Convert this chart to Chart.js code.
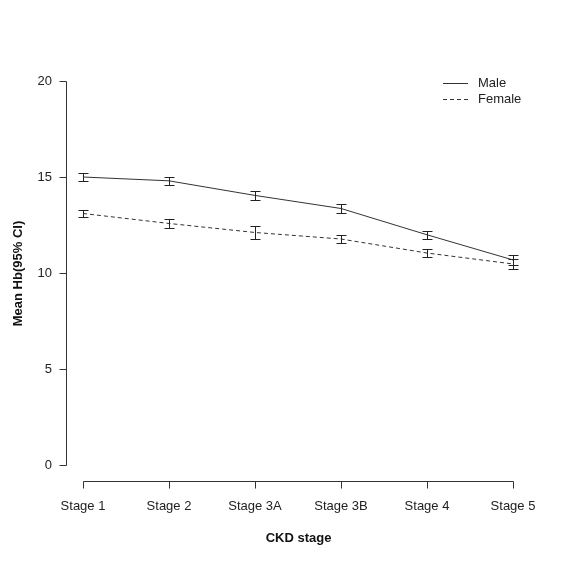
<!DOCTYPE html>
<html>
<head>
<meta charset="utf-8">
<script src="https://cdn.jsdelivr.net/npm/chart.js@4"></script>
<style>
html,body{margin:0;padding:0;background:#fff;}
#wrap{width:563px;height:563px;}
</style>
</head>
<body>
<div id="wrap"><canvas id="c" width="563" height="563"></canvas></div>
<script>
const categories = ["Stage 1","Stage 2","Stage 3A","Stage 3B","Stage 4","Stage 5"];
const maleMean  = [15.00, 14.80, 14.04, 13.36, 11.99, 10.68];
const maleLow   = [14.79, 14.58, 13.81, 13.13, 11.78, 10.42];
const maleHigh  = [15.21, 15.02, 14.27, 13.59, 12.20, 10.94];
const femaleMean = [13.10, 12.58, 12.11, 11.77, 11.04, 10.47];
const femaleLow  = [12.92, 12.35, 11.77, 11.56, 10.83, 10.21];
const femaleHigh = [13.28, 12.81, 12.45, 11.98, 11.25, 10.73];
const yTicks = [0, 5, 10, 15, 20];
const xTitle = "CKD stage";
const yTitle = "Mean Hb(95% CI)";

const INK = '#333333';
const FONT = '13px "Liberation Sans", Arial, sans-serif';
const BOLD = 'bold 13px "Liberation Sans", Arial, sans-serif';

const rAxes = {
  id: 'rAxes',
  afterDatasetsDraw(chart) {
    const ctx = chart.ctx;
    const xs = chart.scales.x, ys = chart.scales.y;
    ctx.save();
    // error bars
    const errs = [[maleLow, maleHigh], [femaleLow, femaleHigh]];
    ctx.strokeStyle = '#222';
    ctx.lineWidth = 1;
    errs.forEach(([lo, hi]) => {
      lo.forEach((v, i) => {
        const x = Math.round(xs.getPixelForValue(i)) + 0.5;
        const y1 = Math.round(ys.getPixelForValue(v)) + 0.5;
        const y2 = Math.round(ys.getPixelForValue(hi[i])) + 0.5;
        ctx.beginPath();
        ctx.moveTo(x, y1); ctx.lineTo(x, y2);
        ctx.moveTo(x - 5, y1); ctx.lineTo(x + 5, y1);
        ctx.moveTo(x - 5, y2); ctx.lineTo(x + 5, y2);
        ctx.stroke();
      });
    });
    // y axis
    ctx.strokeStyle = INK;
    const ax = 66.5;
    const yTop = Math.round(ys.getPixelForValue(yTicks[yTicks.length-1])) + 0.5;
    const yBot = Math.round(ys.getPixelForValue(yTicks[0])) + 0.5;
    ctx.beginPath();
    ctx.moveTo(ax, yTop); ctx.lineTo(ax, yBot);
    yTicks.forEach(t => {
      const y = Math.round(ys.getPixelForValue(t)) + 0.5;
      ctx.moveTo(ax, y); ctx.lineTo(ax - 7, y);
    });
    ctx.stroke();
    ctx.fillStyle = '#222';
    ctx.font = FONT;
    ctx.textAlign = 'right';
    ctx.textBaseline = 'middle';
    yTicks.forEach(t => {
      ctx.fillText(String(t), 52, ys.getPixelForValue(t));
    });
    // x axis
    const ay = 481.5;
    const xL = Math.round(xs.getPixelForValue(0)) + 0.5;
    const xR = Math.round(xs.getPixelForValue(categories.length - 1)) + 0.5;
    ctx.beginPath();
    ctx.moveTo(xL, ay); ctx.lineTo(xR, ay);
    categories.forEach((c, i) => {
      const x = Math.round(xs.getPixelForValue(i)) + 0.5;
      ctx.moveTo(x, ay); ctx.lineTo(x, ay + 7);
    });
    ctx.stroke();
    ctx.textAlign = 'center';
    categories.forEach((c, i) => {
      ctx.fillText(c, xs.getPixelForValue(i), 506);
    });
    // titles
    ctx.fillStyle = '#111';
    ctx.font = BOLD;
    ctx.fillText(xTitle, (xL + xR) / 2, 538);
    ctx.save();
    ctx.translate(18, (yTop + yBot) / 2);
    ctx.rotate(-Math.PI / 2);
    ctx.fillText(yTitle, 0, 0);
    ctx.restore();
    // legend
    ctx.font = FONT;
    ctx.textAlign = 'left';
    ctx.fillStyle = '#222';
    chart.data.datasets.forEach((ds, i) => {
      const y = 83.5 + i * 16;
      ctx.strokeStyle = INK;
      ctx.setLineDash(ds.borderDash || []);
      ctx.beginPath();
      ctx.moveTo(443, y); ctx.lineTo(468, y);
      ctx.stroke();
      ctx.setLineDash([]);
      ctx.fillText(ds.label, 478, y);
    });
    ctx.restore();
  }
};

new Chart(document.getElementById('c'), {
  type: 'line',
  data: {
    labels: categories,
    datasets: [
      { label: 'Male', data: maleMean, borderColor: INK, borderWidth: 1, pointRadius: 0, tension: 0, fill: false },
      { label: 'Female', data: femaleMean, borderColor: INK, borderWidth: 1, borderDash: [4, 3], pointRadius: 0, tension: 0, fill: false }
    ]
  },
  options: {
    responsive: false,
    animation: false,
    layout: { padding: { left: 83, right: 50, top: 81, bottom: 98 } },
    plugins: { legend: { display: false }, tooltip: { enabled: false } },
    scales: {
      x: { type: 'category', display: false, offset: false },
      y: { display: false, min: 0, max: 20 }
    }
  },
  plugins: [rAxes]
});
</script>
</body>
</html>
